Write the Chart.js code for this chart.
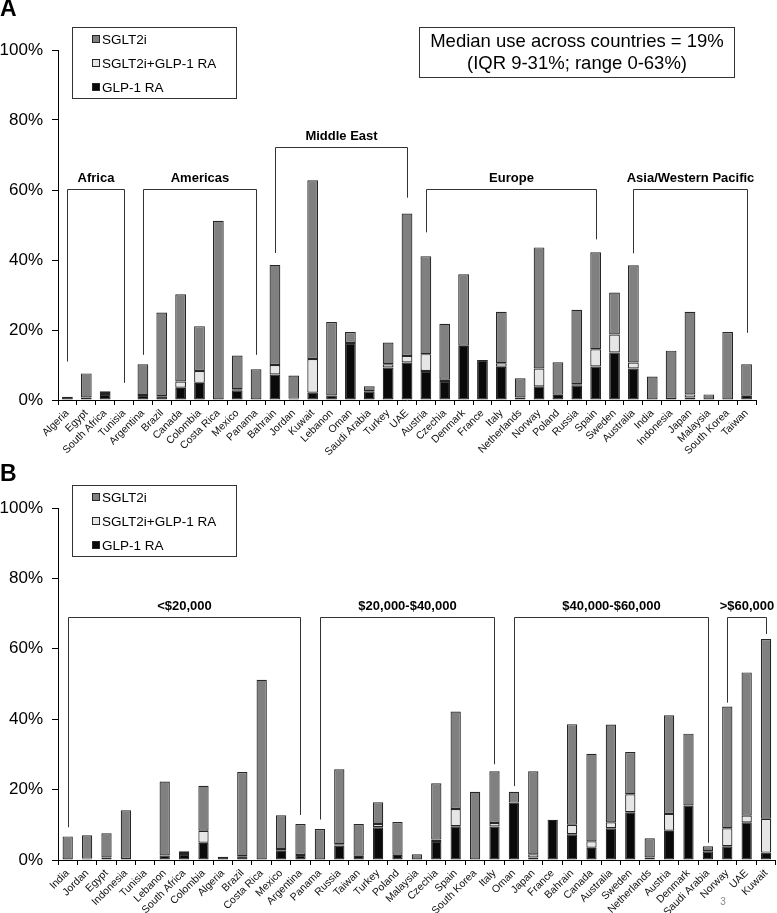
<!DOCTYPE html>
<html>
<head>
<meta charset="utf-8">
<script src="https://cdn.jsdelivr.net/npm/chart.js@4.4.1/dist/chart.umd.min.js"></script>
<style>
  body { margin: 0; background: #fff; }
  canvas { display: block; }
</style>
</head>
<body>
<canvas id="chart-a" width="777" height="455"></canvas>
<canvas id="chart-b" width="777" height="458"></canvas>
<script>
// panel A order (by region)
const countries = ['Algeria', 'Egypt', 'South Africa', 'Tunisia', 'Argentina', 'Brazil', 'Canada', 'Colombia',
    'Costa Rica', 'Mexico', 'Panama', 'Bahrain', 'Jordan', 'Kuwait', 'Lebanon', 'Oman', 'Saudi Arabia', 'Turkey',
    'UAE', 'Austria', 'Czechia', 'Denmark', 'France', 'Italy', 'Netherlands', 'Norway', 'Poland', 'Russia', 'Spain',
    'Sweden', 'Australia', 'India', 'Indonesia', 'Japan', 'Malaysia', 'South Korea', 'Taiwan'];

// % of patients
const glp1 = [0.9, 0.7, 1.7, 0, 1.4, 1.1, 3.5, 4.9, 0, 2.8, 0, 7.3, 0.4, 2.1, 1.3, 16.3, 2.5, 9.3,
    10.7, 8.3, 5.4, 15.5, 11.4, 9.5, 0.7, 3.9, 1.5, 4.1, 9.6, 13.6, 9.0, 0, 0.3, 0.7, 0, 0, 1.2];
const combo = [0, 0, 0.3, 0, 0, 0, 1.8, 3.4, 0, 0.3, 0, 2.7, 0, 9.6, 0, 0, 0, 0.9,
    1.9, 4.8, 0.4, 0, 0, 1.0, 0, 5.1, 0, 0.4, 4.9, 5.1, 1.7, 0, 0, 0.9, 0, 0, 0];
const sglt2 = [0, 6.9, 0.5, 0, 8.8, 23.9, 24.9, 12.8, 51.2, 9.6, 8.8, 28.6, 6.6, 51.1, 21.0, 3.1, 1.4, 6.2,
    40.7, 28.0, 16.0, 20.4, 0, 14.7, 5.5, 34.6, 9.3, 21.3, 27.7, 12.0, 27.8, 6.7, 13.8, 23.6, 1.6, 19.4, 9.0];

// panel B order (by income)
const incomeOrder = ['India', 'Jordan', 'Egypt', 'Indonesia', 'Tunisia', 'Lebanon', 'South Africa', 'Colombia',
    'Algeria', 'Brazil', 'Costa Rica', 'Mexico', 'Argentina', 'Panama', 'Russia', 'Taiwan', 'Turkey', 'Poland',
    'Malaysia', 'Czechia', 'Spain', 'South Korea', 'Italy', 'Oman', 'Japan', 'France', 'Bahrain', 'Canada',
    'Australia', 'Sweden', 'Netherlands', 'Austria', 'Denmark', 'Saudi Arabia', 'Norway', 'UAE', 'Kuwait'];

const yTicks = [0, 20, 40, 60, 80, 100];

// group brackets: first/last category index, bracket level and leg ends in %
const regionGroups = [
    { label: 'Africa', from: 0, to: 3, top: 60.3, left: 11, right: 4.9 },
    { label: 'Americas', from: 4, to: 10, top: 60.3, left: 12.9, right: 12.9 },
    { label: 'Middle East', from: 11, to: 18, top: 72.3, left: 42, right: 57.8 },
    { label: 'Europe', from: 19, to: 28, top: 60.3, left: 47.9, right: 45.9 },
    { label: 'Asia/Western Pacific', from: 30, to: 36, top: 60.3, left: 41.9, right: 19.2 }
];
const incomeGroups = [
    { label: '<$20,000', from: 0, to: 12, top: 69, left: 9.3, right: 12.8 },
    { label: '$20,000-$40,000', from: 13, to: 22, top: 69, left: 11.5, right: 27.2 },
    { label: '$40,000-$60,000', from: 23, to: 33, top: 69, left: 21, right: 4.9 },
    { label: '>$60,000', from: 34, to: 36, top: 69, left: 44.7, right: 64.2 }
];

const FONT = '"Liberation Sans", Arial, Helvetica, sans-serif';
const colors = { sglt2: '#808080', combo: '#e6e6e6', glp1: '#0a0a0a', edge: '#262626' };

Chart.defaults.font.family = FONT;
Chart.defaults.color = '#000';

function datasetsFor(order) {
    const idx = order.map(c => countries.indexOf(c));
    const pick = arr => idx.map(i => arr[i] || null);
    const common = { borderColor: colors.edge, borderWidth: 1.2, borderSkipped: false };
    return [
        { label: 'GLP-1 RA', data: pick(glp1), backgroundColor: colors.glp1, ...common },
        { label: 'SGLT2i+GLP-1 RA', data: pick(combo), backgroundColor: colors.combo, ...common },
        { label: 'SGLT2i', data: pick(sglt2), backgroundColor: colors.sglt2, ...common }
    ];
}

function annotations(letter, letterY, groups, extra) {
    return {
        id: 'annotations' + letter,
        afterDraw(chart) {
            const { ctx, chartArea, scales: { x, y } } = chart;
            ctx.save();
            ctx.fillStyle = '#000';
            ctx.strokeStyle = '#333';
            ctx.lineWidth = 1;

            ctx.font = 'bold 23px ' + FONT;
            ctx.textAlign = 'left';
            ctx.textBaseline = 'middle';
            ctx.fillText(letter, 0, letterY);

            // legend
            const lx = chartArea.left + 14, ly = chartArea.top - 23;
            ctx.strokeRect(lx + 0.5, ly + 0.5, 164, 71);
            ctx.font = '13.5px ' + FONT;
            const items = [['SGLT2i', colors.sglt2], ['SGLT2i+GLP-1 RA', colors.combo], ['GLP-1 RA', colors.glp1]];
            items.forEach(([name, col], i) => {
                const ry = ly + 12 + i * 24;
                ctx.fillStyle = col;
                ctx.fillRect(lx + 20, ry - 4, 8, 8);
                ctx.strokeStyle = colors.edge;
                ctx.strokeRect(lx + 20.5, ry - 3.5, 7, 7);
                ctx.fillStyle = '#000';
                ctx.fillText(name, lx + 30, ry + 1);
            });

            // brackets
            ctx.strokeStyle = '#333';
            ctx.font = 'bold 13px ' + FONT;
            ctx.textAlign = 'center';
            groups.forEach(g => {
                const x1 = Math.round(x.getPixelForValue(g.from)) + 0.5;
                const x2 = Math.round(x.getPixelForValue(g.to)) + 0.5;
                const yt = Math.round(y.getPixelForValue(g.top)) + 0.5;
                ctx.beginPath();
                ctx.moveTo(x1, y.getPixelForValue(g.left));
                ctx.lineTo(x1, yt);
                ctx.lineTo(x2, yt);
                ctx.lineTo(x2, y.getPixelForValue(g.right));
                ctx.stroke();
                ctx.fillText(g.label, (x1 + x2) / 2, yt - 11);
            });

            if (extra) extra(ctx);
            ctx.restore();
        }
    };
}

function makeChart(canvasId, order, layoutPad, xHeight, barPct, plugin) {
    return new Chart(document.getElementById(canvasId), {
        type: 'bar',
        data: { labels: order, datasets: datasetsFor(order) },
        options: {
            responsive: false,
            animation: false,
            layout: { padding: layoutPad },
            datasets: { bar: { barPercentage: barPct, categoryPercentage: 1 } },
            plugins: { legend: { display: false }, tooltip: { enabled: false } },
            scales: {
                x: {
                    stacked: true,
                    grid: { display: true, drawOnChartArea: false, drawTicks: true, tickLength: 5, color: '#000', offset: true },
                    border: { display: true, color: '#000', width: 1 },
                    ticks: { autoSkip: false, minRotation: 45, maxRotation: 45, padding: 2, color: '#111', font: { size: 10.5 } },
                    afterFit: s => { s.height = xHeight; }
                },
                y: {
                    stacked: true,
                    min: 0,
                    max: 100,
                    afterBuildTicks: s => { s.ticks = yTicks.map(v => ({ value: v })); },
                    grid: { display: true, drawOnChartArea: false, drawTicks: true, tickLength: 6, color: '#000' },
                    border: { display: true, color: '#000', width: 1 },
                    ticks: { padding: 9, color: '#000', font: { size: 17 }, callback: v => v + '%' },
                    afterFit: s => { s.width = 58; }
                }
            }
        },
        plugins: [plugin]
    });
}

makeChart('chart-a', countries, { top: 50, right: 21, bottom: 0, left: 0 }, 55, 0.57,
    annotations('A', 10, regionGroups, ctx => {
        ctx.strokeStyle = '#333';
        ctx.strokeRect(419.5, 27.5, 315, 50);
        ctx.font = '18.5px ' + FONT;
        ctx.textAlign = 'center';
        ctx.fillStyle = '#000';
        ctx.fillText('Median use across countries = 19%', 577, 42);
        ctx.fillText('(IQR 9-31%; range 0-63%)', 577, 64);
    }));

makeChart('chart-b', incomeOrder, { top: 53, right: 1, bottom: 0, left: 0 }, 53, 0.53,
    annotations('B', 20, incomeGroups, ctx => {
        ctx.font = '10px ' + FONT;
        ctx.fillStyle = '#888';
        ctx.textAlign = 'center';
        ctx.fillText('3', 723, 447);
    }));
</script>
</body>
</html>
